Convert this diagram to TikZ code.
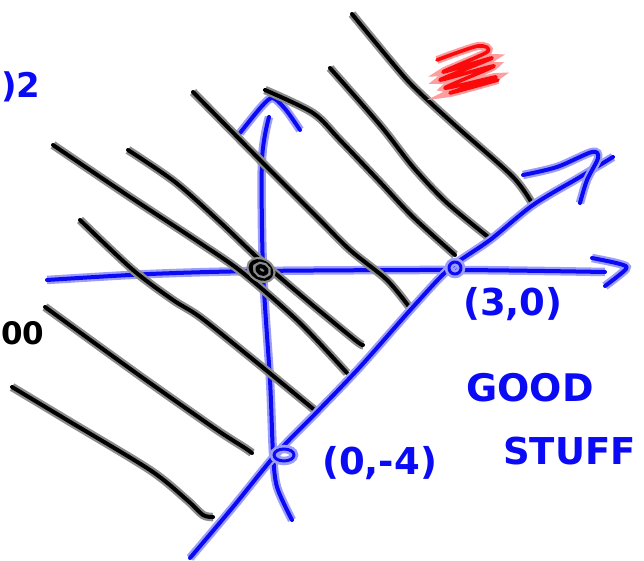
\documentclass[tikz,border=0pt]{standalone}
\usepackage{fontspec}
\setmainfont{DejaVu Sans}
\definecolor{inkblue}{RGB}{10,10,245}
\definecolor{inkred}{RGB}{250,10,10}
\begin{document}
\begin{tikzpicture}[x=1pt,y=-1pt,
  blueink/.style={draw=inkblue, line width=4pt, line cap=round, line join=round,
    preaction={draw=inkblue!40, line width=8.5pt}},
  blackink/.style={draw=black, line width=4pt, line cap=round, line join=round,
    preaction={draw=black!45, line width=8.5pt}},
  redink/.style={draw=inkred, line width=3.6pt, line cap=round, line join=round,
    preaction={draw=inkred!40, line width=8pt}},
  lbl/.style={text=inkblue, inner sep=0pt, font=\bfseries\fontsize{37}{37}\selectfont},
  blk/.style={text=black, inner sep=0pt, font=\bfseries\fontsize{31}{31}\selectfont}]
\useasboundingbox (0,0) rectangle (644,561);
% axes
\draw[blueink] plot[smooth] coordinates {(47,280) (150,274) (260,271) (455,270) (605,272)};
\draw[blueink] plot[smooth] coordinates {(592,258) (620,264) (626,269) (605,286)};
\draw[blueink] plot[smooth] coordinates {(292,520) (277,487) (273,453) (270,380) (263,270) (262,160) (269,117)};
\draw[blueink] plot[smooth] coordinates {(240,133) (262,106) (273,98) (286,110) (300,130)};
% hatching
\draw[blackink] plot[smooth] coordinates {(352,14) (400,72) (420,93) (457,127) (513,177) (533,205)};
\draw[blackink] plot[smooth] coordinates {(330,68) (380,125) (413,167) (447,203) (492,240)};
\draw[blackink] plot[smooth] coordinates {(265,90) (313,113) (340,140) (380,182) (413,217) (455,255)};
\draw[blackink] plot[smooth] coordinates {(193,92) (260,160) (320,220) (350,250) (387,280) (410,308)};
\draw[blackink] plot[smooth] coordinates {(128,150) (175,182) (220,222) (260,260) (303,297) (355,340) (363,345)};
\draw[blackink] plot[smooth] coordinates {(53,145) (127,195) (200,243) (243,273) (300,323) (347,373)};
\draw[blackink] plot[smooth] coordinates {(80,220) (133,270) (173,300) (200,317) (250,357) (317,412)};
\draw[blackink] plot[smooth] coordinates {(45,307) (100,347) (150,383) (217,430) (245,448) (252,453)};
\draw[blackink] plot[smooth] coordinates {(12,387) (67,420) (150,470) (187,500) (203,515) (213,517)};
% boundary line
\draw[blueink] plot[smooth] coordinates {(190,558) (233,507) (277,453) (317,412) (360,367) (413,307) (450,268) (490,240) (533,205) (580,177) (613,157)};
\draw[blueink] plot[smooth] coordinates {(523,175) (557,167) (592,152) (598,158) (587,180) (580,203)};
% points
\draw[blackink] (261,270) ellipse [x radius=11, y radius=8, rotate=-30];
\draw[blackink] (262,270) ellipse [x radius=5, y radius=3.5, rotate=-30];
\draw[blueink, line width=3pt] (455,268) circle [radius=6];
\draw[blueink, line width=3pt] (284,455) ellipse [x radius=10, y radius=6];
% red scribble
\draw[redink] plot[smooth, tension=0.5] coordinates {(437,60) (478,46) (487,52) (443,72) (492,58) (440,80) (494,66) (445,88) (496,77) (450,93) (498,80)};
% labels
\node[lbl, anchor=west] (p30) at (463,304) {(3,0)};
\node[lbl, anchor=west] (p04) at (322,463) {(0,-4)};
\node[lbl, anchor=west, font=\bfseries\fontsize{38}{38}\selectfont] (good) at (466,388) {GOOD};
\node[lbl, anchor=west, font=\bfseries\fontsize{37}{37}\selectfont] (stuff) at (503,451) {STUFF};
\node[lbl, anchor=west, font=\bfseries\fontsize{34}{34}\selectfont] (two) at (1,87) {)2};
\node[blk, anchor=west] (zero) at (1,333) {00};
\end{tikzpicture}
\end{document}
